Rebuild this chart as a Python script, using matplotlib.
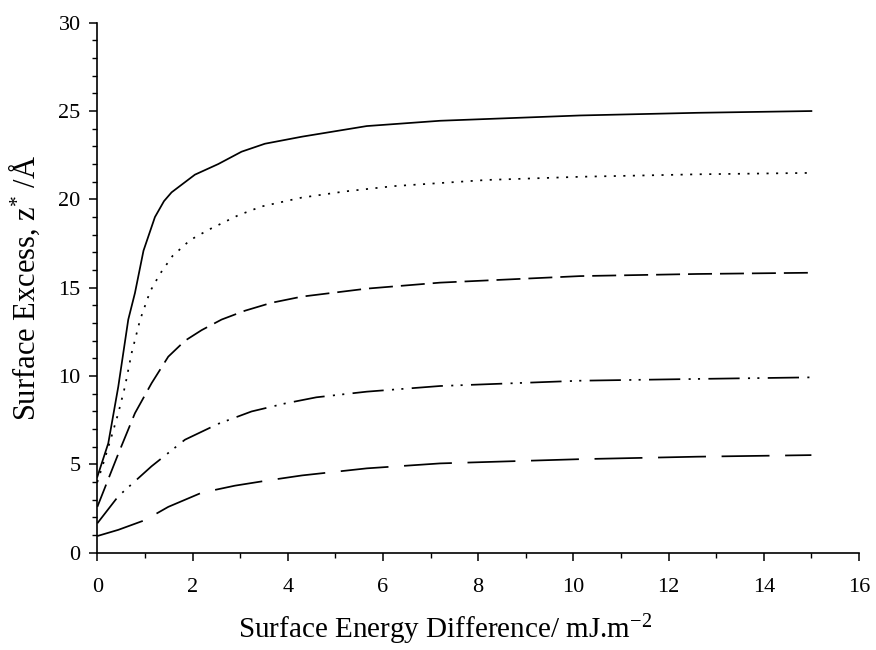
import matplotlib
matplotlib.use("Agg")
import matplotlib.pyplot as plt
from matplotlib.ticker import MultipleLocator

plt.rcParams["font.family"] = ["Liberation Serif", "DejaVu Serif"]
plt.rcParams["mathtext.fontset"] = "custom"
plt.rcParams["mathtext.rm"] = "Liberation Serif"
plt.rcParams["mathtext.it"] = "Liberation Serif:italic"

# Surface excess curves vs. surface energy difference
x_solid = [0, 0.23, 0.44, 0.65, 0.79, 0.97, 1.21, 1.4, 1.56, 2.05, 2.54, 3.03, 3.52, 4.3, 5.66, 7.2, 10.14, 12.6, 15]
y_solid = [4.3, 6.2, 9.4, 13.2, 14.7, 17.1, 19.0, 19.9, 20.4, 21.4, 22.0, 22.7, 23.15, 23.55, 24.15, 24.45, 24.75, 24.9, 25.0]

x_dot = [0, 0.13, 0.30, 0.44, 0.58, 0.72, 0.9, 1.11, 1.32, 1.58, 1.95, 2.35, 2.96, 3.45, 4.29, 5.2, 6.22, 8.18, 10.14, 12.6, 15]
y_dot = [4.0, 5.1, 6.6, 7.9, 9.4, 11.3, 13.2, 14.8, 15.8, 16.8, 17.7, 18.3, 19.1, 19.6, 20.1, 20.45, 20.75, 21.1, 21.28, 21.42, 21.5]

x_dash = [0, 0.44, 0.79, 1.14, 1.49, 1.84, 2.19, 2.61, 3.10, 3.66, 4.3, 5.66, 7.2, 10.14, 12.6, 15]
y_dash = [2.6, 5.6, 7.9, 9.6, 11.1, 12.0, 12.6, 13.2, 13.7, 14.15, 14.5, 14.95, 15.29, 15.66, 15.78, 15.85]

x_dashdot = [0, 0.44, 1.14, 1.84, 2.54, 3.24, 3.94, 4.6, 5.66, 7.2, 10.14, 12.6, 15]
y_dashdot = [1.67, 3.2, 4.9, 6.4, 7.3, 8.0, 8.45, 8.8, 9.12, 9.44, 9.74, 9.84, 9.93]

x_longdash = [0, 0.44, 1.0, 1.49, 2.19, 2.89, 3.59, 4.3, 5.66, 7.2, 10.14, 12.6, 15]
y_longdash = [0.95, 1.3, 1.85, 2.6, 3.4, 3.8, 4.1, 4.38, 4.78, 5.06, 5.3, 5.44, 5.53]

x_ticks = [0, 2, 4, 6, 8, 10, 12, 14, 16]
y_ticks = [0, 5, 10, 15, 20, 25, 30]

fig = plt.figure(figsize=(8.76, 6.5), dpi=100)
ax = fig.add_axes([0.1111, 0.1495, 0.8695, 0.8156])

lw = 1.25
ax.plot(x_solid, y_solid, color="black", lw=lw, linestyle="-")
ax.plot(x_dot, y_dot, color="black", lw=lw, linestyle=(0, (1.2, 4.3)))
ax.plot(x_dash, y_dash, color="black", lw=lw, linestyle=(0, (13.8, 4.6)))
ax.plot(x_dashdot, y_dashdot, color="black", lw=lw,
        linestyle=(0, (18, 4.8, 1.2, 4.2, 1.2, 4.8)))
ax.plot(x_longdash, y_longdash, color="black", lw=lw, linestyle=(0, (27.6, 9)))

ax.set_xlim(0, 16)
ax.set_ylim(0, 30)
ax.set_xticks(x_ticks)
ax.set_yticks(y_ticks)
ax.xaxis.set_minor_locator(MultipleLocator(1))
ax.yaxis.set_minor_locator(MultipleLocator(1))

for s in ("top", "right"):
    ax.spines[s].set_visible(False)
for s in ("left", "bottom"):
    ax.spines[s].set_linewidth(1.2)

ax.tick_params(which="major", direction="out", length=6, width=1.1, labelsize=16)
ax.tick_params(axis="x", which="major", pad=12)
ax.tick_params(axis="y", which="major", pad=6)
ax.tick_params(which="minor", direction="out", length=3.5, width=1.0)

ax.set_xlabel(r"Surface Energy Difference/ mJ.m$^{\mathregular{-2}}$", fontsize=21)
ax.set_ylabel(r"Surface Excess, z$^{\mathregular{*}}$ /Å", fontsize=22)
ax.xaxis.set_label_coords(0.456, -0.112)
ax.yaxis.set_label_coords(-0.073, 0.5)

fig.savefig("out.png", dpi=100)
